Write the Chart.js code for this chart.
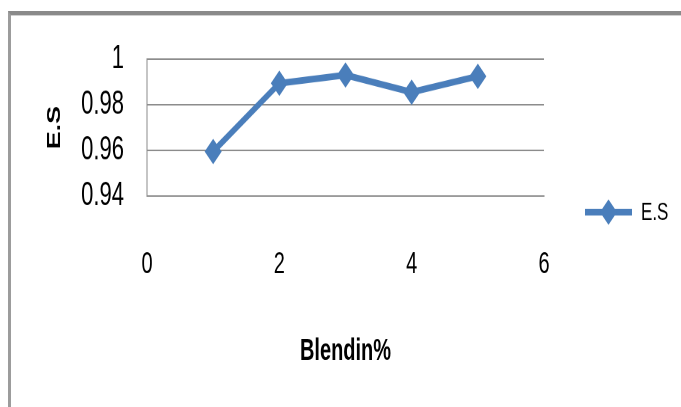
<!DOCTYPE html>
<html>
<head>
<meta charset="utf-8">
<script src="https://cdn.jsdelivr.net/npm/chart.js@4/dist/chart.umd.min.js"></script>
<style>
  html, body { margin: 0; padding: 0; background: #ffffff; }
  #wrap { position: relative; width: 681px; height: 407px; overflow: hidden; background: #ffffff; }
  /* the chart is laid out on a shorter canvas and shown taller */
  #chart { position: absolute; left: 0; top: 0; width: 681px; height: 407px; }
  #frame {
    position: absolute; left: 8px; top: 11px; right: -4px; bottom: -4px;
    border-top: 4px solid #8a8a8a; border-left: 3px solid #9c9c9c;
    box-shadow: inset 0 1px 0 #d0d0d0;
    pointer-events: none;
  }
</style>
</head>
<body>
<div id="wrap">
  <canvas id="chart" width="681" height="272" style="width:681px;height:407px"></canvas>
  <div id="frame"></div>
</div>
<script>
// Blend percentage vs E.S
const blendPercent = [1, 2, 3, 4, 5];
const esValues = [0.9595, 0.9894, 0.9930, 0.9855, 0.9925];
const xTickValues = [0, 2, 4, 6];
const yTickValues = [0.94, 0.96, 0.98, 1];
const yTickLabels = ['0.94', '0.96', '0.98', '1'];
const seriesName = 'E.S';
const xTitle = 'Blendin%';
const yTitle = 'E.S';

const FONT = "'Liberation Sans', Arial, sans-serif";
const BLUE = '#4a7ebb';
const GRID = '#8c8c8c';

function drawDiamond(ctx, x, y, r) {
  ctx.beginPath();
  ctx.moveTo(x, y - r);
  ctx.lineTo(x + r, y);
  ctx.lineTo(x, y + r);
  ctx.lineTo(x - r, y);
  ctx.closePath();
  ctx.fill();
}

// Legend on the right: line sample with a diamond and the series name
const sideLegend = {
  id: 'sideLegend',
  afterDraw(chart) {
    const ctx = chart.ctx;
    const y = 141.7;
    ctx.save();
    ctx.strokeStyle = BLUE;
    ctx.fillStyle = BLUE;
    ctx.lineWidth = 4.5;
    ctx.beginPath();
    ctx.moveTo(585, y);
    ctx.lineTo(632, y);
    ctx.stroke();
    drawDiamond(ctx, 608.5, y, 8.5);
    ctx.fillStyle = '#000000';
    ctx.font = "17px " + FONT;
    ctx.textBaseline = 'middle';
    ctx.textAlign = 'left';
    ctx.fillText(seriesName, 641, y + 0.5);
    ctx.restore();
  }
};

const whiteBg = {
  id: 'whiteBg',
  beforeDraw(chart) {
    const ctx = chart.ctx;
    ctx.save();
    ctx.fillStyle = '#ffffff';
    ctx.fillRect(0, 0, chart.width, chart.height);
    ctx.restore();
  }
};

new Chart(document.getElementById('chart'), {
  type: 'line',
  data: {
    datasets: [{
      label: seriesName,
      data: blendPercent.map((x, i) => ({ x: x, y: esValues[i] })),
      borderColor: BLUE,
      backgroundColor: BLUE,
      borderWidth: 4.5,
      pointStyle: 'rectRot',
      pointRadius: 8.5,
      pointBorderWidth: 0,
      pointBackgroundColor: BLUE,
      pointBorderColor: BLUE,
      tension: 0,
      fill: false
    }]
  },
  options: {
    responsive: false,
    animation: false,
    devicePixelRatio: 2,
    layout: { padding: { top: 39.5, right: 137, bottom: 0, left: 0 } },
    plugins: {
      legend: { display: false },
      tooltip: { enabled: false }
    },
    scales: {
      x: {
        type: 'linear',
        min: 0,
        max: 6,
        afterBuildTicks: s => { s.ticks = xTickValues.map(v => ({ value: v })); },
        afterFit: s => { s.height = 141; },
        grid: { display: false, drawTicks: false },
        border: { display: true, color: GRID, width: 1 },
        ticks: {
          color: '#000000',
          padding: 34,
          maxRotation: 0,
          font: { family: FONT, size: 20 },
          callback: v => String(v)
        },
        title: {
          display: true,
          text: xTitle,
          color: '#000000',
          font: { family: FONT, size: 20, weight: 'bold' },
          padding: { top: 0, bottom: 25 }
        }
      },
      y: {
        min: 0.94,
        max: 1,
        afterBuildTicks: s => { s.ticks = yTickValues.map(v => ({ value: v })); },
        afterFit: s => { s.width = 147; },
        grid: { color: GRID, lineWidth: 1, drawTicks: false },
        border: { display: true, color: GRID, width: 1 },
        ticks: {
          color: '#000000',
          padding: 23,
          font: { family: FONT, size: 22 },
          callback: (v, i) => yTickLabels[i]
        },
        title: {
          display: true,
          text: yTitle,
          color: '#000000',
          font: { family: FONT, size: 18, weight: 'bold' },
          padding: { top: 44, bottom: 0 }
        }
      }
    }
  },
  plugins: [whiteBg, sideLegend]
});
</script>
</body>
</html>
